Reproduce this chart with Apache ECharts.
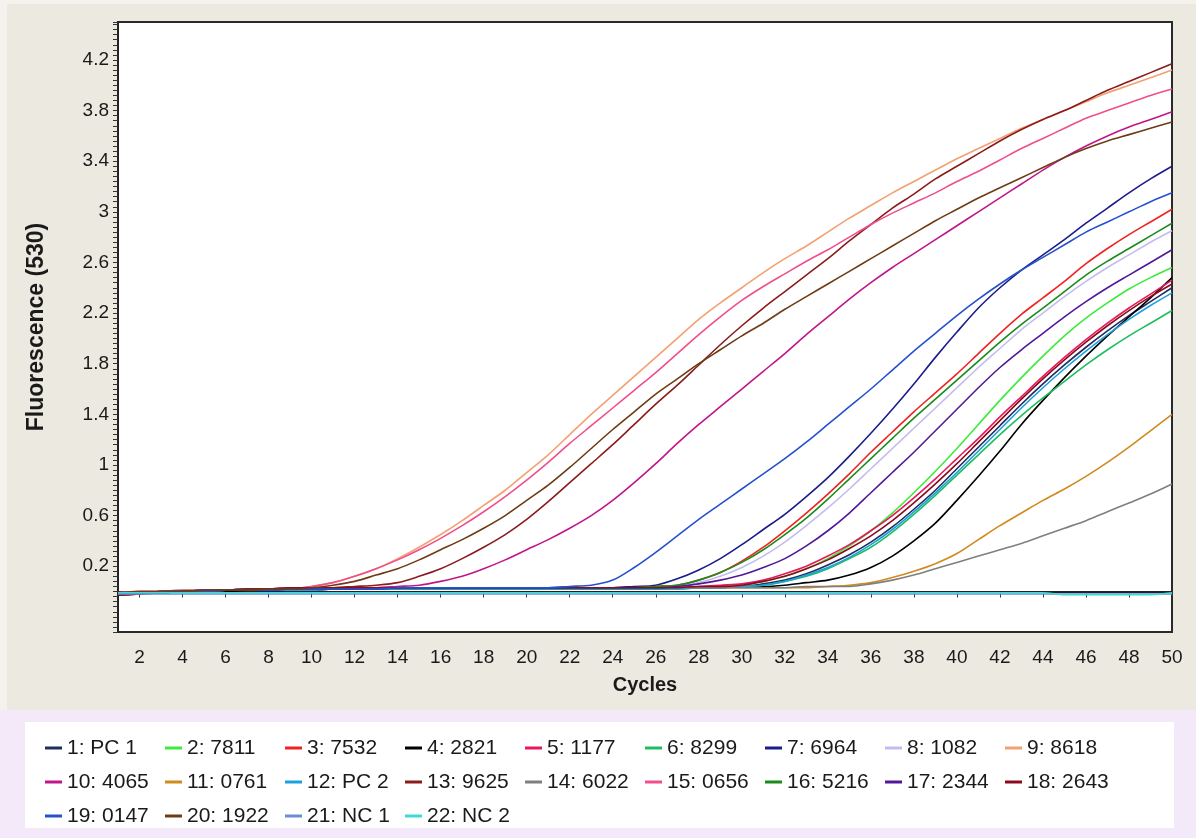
<!DOCTYPE html>
<html>
<head>
<meta charset="utf-8">
<title>Fluorescence (530) amplification curves</title>
<script src="https://cdn.jsdelivr.net/npm/echarts@6/dist/echarts.min.js"></script>
<style>
  html, body { margin: 0; padding: 0; background: #ece9e1; }
  #chart { width: 1196px; height: 838px; }
</style>
</head>
<body>
<div id="chart"></div>
<script>
/* -------------------------------------------------------------------------- */
/* Data */
var cycles = [1, 2, 3, 4, 5, 6, 7, 8, 9, 10, 11, 12, 13, 14, 15, 16, 17, 18, 19, 20,
  21, 22, 23, 24, 25, 26, 27, 28, 29, 30, 31, 32, 33, 34, 35, 36, 37, 38, 39, 40,
  41, 42, 43, 44, 45, 46, 47, 48, 49, 50];

var xTicks = [2, 4, 6, 8, 10, 12, 14, 16, 18, 20, 22, 24, 26, 28, 30, 32, 34, 36, 38, 40, 42, 44, 46, 48, 50];
var yTicks = [0.2, 0.6, 1, 1.4, 1.8, 2.2, 2.6, 3, 3.4, 3.8, 4.2];

var sampleNames = ['1: PC 1', '2: 7811', '3: 7532', '4: 2821', '5: 1177', '6: 8299', '7: 6964',
  '8: 1082', '9: 8618', '10: 4065', '11: 0761', '12: PC 2', '13: 9625', '14: 6022', '15: 0656',
  '16: 5216', '17: 2344', '18: 2643', '19: 0147', '20: 1922', '21: NC 1', '22: NC 2'];

var sampleColors = ['#1f2e5c', '#3ceb3c', '#f02222', '#000000', '#e8185a', '#1dbe60', '#1c1c8c',
  '#c4bcec', '#f4a072', '#c0168a', '#d08a1e', '#1e9fe0', '#8a1c1c', '#7f7f7f', '#f04e8c',
  '#1a8c1a', '#52189a', '#8c0a1e', '#2650ce', '#6e3c14', '#6c8cd6', '#3ed8d8'];

var s1 = [-0.02, -0.01, -0.01, 0, 0, 0.01, 0.01, 0.01, 0.02, 0.02, 0.02, 0.02, 0.02, 0.02, 0.02, 0.02, 0.02, 0.02, 0.02, 0.02,
  0.02, 0.02, 0.02, 0.02, 0.02, 0.02, 0.03, 0.03, 0.04, 0.04, 0.06, 0.09, 0.14, 0.21, 0.29, 0.39, 0.51, 0.65, 0.80, 0.97,
  1.14, 1.31, 1.48, 1.64, 1.79, 1.93, 2.06, 2.18, 2.29, 2.40];
var s2 = [-0.01, -0.01, 0, 0, 0, 0.01, 0.01, 0.01, 0.02, 0.02, 0.02, 0.02, 0.02, 0.02, 0.02, 0.02, 0.02, 0.02, 0.02, 0.02,
  0.02, 0.02, 0.02, 0.02, 0.03, 0.03, 0.03, 0.03, 0.04, 0.05, 0.08, 0.12, 0.18, 0.26, 0.36, 0.48, 0.62, 0.78, 0.95, 1.13,
  1.32, 1.51, 1.69, 1.86, 2.02, 2.16, 2.28, 2.39, 2.48, 2.56];
var s3 = [-0.01, -0.01, 0, 0, 0.01, 0.01, 0.01, 0.02, 0.02, 0.02, 0.02, 0.03, 0.03, 0.03, 0.03, 0.03, 0.03, 0.03, 0.03, 0.03,
  0.03, 0.03, 0.03, 0.03, 0.03, 0.04, 0.05, 0.09, 0.15, 0.24, 0.35, 0.48, 0.62, 0.77, 0.93, 1.10, 1.26, 1.42, 1.57, 1.72,
  1.88, 2.04, 2.19, 2.32, 2.45, 2.59, 2.71, 2.82, 2.92, 3.02];
var s4 = [-0.02, -0.01, -0.01, 0, 0, 0, 0.01, 0.01, 0.01, 0.01, 0.02, 0.02, 0.02, 0.02, 0.02, 0.02, 0.02, 0.02, 0.02, 0.02,
  0.02, 0.02, 0.02, 0.02, 0.02, 0.03, 0.03, 0.03, 0.03, 0.04, 0.04, 0.05, 0.07, 0.09, 0.13, 0.19, 0.28, 0.40, 0.54, 0.72,
  0.91, 1.11, 1.32, 1.51, 1.69, 1.86, 2.02, 2.17, 2.32, 2.48];
var s5 = [-0.01, -0.01, 0, 0, 0.01, 0.01, 0.01, 0.02, 0.02, 0.02, 0.03, 0.03, 0.03, 0.03, 0.03, 0.03, 0.03, 0.03, 0.03, 0.03,
  0.03, 0.03, 0.03, 0.03, 0.03, 0.03, 0.03, 0.04, 0.05, 0.06, 0.09, 0.14, 0.20, 0.28, 0.37, 0.48, 0.60, 0.74, 0.89, 1.05,
  1.21, 1.38, 1.54, 1.70, 1.85, 1.99, 2.12, 2.24, 2.35, 2.46];
var s6 = [-0.01, -0.01, 0, 0, 0, 0.01, 0.01, 0.01, 0.01, 0.02, 0.02, 0.02, 0.02, 0.02, 0.02, 0.02, 0.02, 0.02, 0.02, 0.02,
  0.02, 0.02, 0.02, 0.02, 0.02, 0.02, 0.02, 0.03, 0.03, 0.04, 0.05, 0.08, 0.12, 0.18, 0.26, 0.35, 0.47, 0.61, 0.76, 0.92,
  1.08, 1.24, 1.39, 1.53, 1.66, 1.79, 1.91, 2.02, 2.12, 2.22];
var s7 = [-0.02, -0.01, -0.01, 0, 0, 0.01, 0.01, 0.01, 0.02, 0.02, 0.02, 0.02, 0.02, 0.03, 0.03, 0.03, 0.03, 0.03, 0.03, 0.03,
  0.03, 0.03, 0.03, 0.03, 0.04, 0.05, 0.10, 0.17, 0.26, 0.37, 0.49, 0.61, 0.75, 0.90, 1.07, 1.25, 1.44, 1.64, 1.85, 2.05,
  2.24, 2.40, 2.54, 2.66, 2.78, 2.91, 3.03, 3.15, 3.26, 3.36];
var s8 = [-0.01, -0.01, 0, 0, 0.01, 0.01, 0.01, 0.02, 0.02, 0.02, 0.02, 0.02, 0.03, 0.03, 0.03, 0.03, 0.03, 0.03, 0.03, 0.03,
  0.03, 0.03, 0.03, 0.03, 0.03, 0.03, 0.04, 0.07, 0.12, 0.19, 0.28, 0.39, 0.52, 0.66, 0.81, 0.97, 1.13, 1.29, 1.45, 1.61,
  1.77, 1.92, 2.07, 2.20, 2.33, 2.45, 2.56, 2.66, 2.76, 2.85];
var s9 = [-0.01, 0, 0, 0, 0.01, 0.01, 0.01, 0.02, 0.02, 0.04, 0.07, 0.12, 0.18, 0.26, 0.35, 0.45, 0.56, 0.68, 0.80, 0.94,
  1.08, 1.24, 1.40, 1.55, 1.70, 1.85, 2.00, 2.15, 2.28, 2.40, 2.52, 2.63, 2.73, 2.84, 2.95, 3.05, 3.15, 3.24, 3.33, 3.42,
  3.50, 3.58, 3.66, 3.73, 3.80, 3.87, 3.94, 4.00, 4.06, 4.12];
var s10 = [-0.01, 0, 0, 0, 0.01, 0.01, 0.02, 0.02, 0.02, 0.02, 0.03, 0.03, 0.03, 0.04, 0.05, 0.08, 0.12, 0.18, 0.25, 0.33,
  0.41, 0.50, 0.60, 0.72, 0.86, 1.01, 1.17, 1.32, 1.46, 1.60, 1.74, 1.88, 2.03, 2.17, 2.31, 2.44, 2.56, 2.67, 2.78, 2.89,
  3.00, 3.11, 3.22, 3.33, 3.43, 3.52, 3.60, 3.67, 3.73, 3.79];
var s11 = [-0.01, -0.01, 0, 0, 0.01, 0.01, 0.01, 0.02, 0.02, 0.02, 0.02, 0.02, 0.03, 0.03, 0.03, 0.03, 0.03, 0.03, 0.03, 0.03,
  0.03, 0.03, 0.03, 0.03, 0.03, 0.03, 0.03, 0.03, 0.03, 0.03, 0.03, 0.03, 0.03, 0.04, 0.05, 0.07, 0.11, 0.16, 0.22, 0.30,
  0.41, 0.52, 0.62, 0.72, 0.81, 0.91, 1.02, 1.14, 1.27, 1.40];
var s12 = [-0.01, -0.01, 0, 0, 0, 0.01, 0.01, 0.01, 0.01, 0.01, 0.02, 0.02, 0.02, 0.02, 0.02, 0.02, 0.02, 0.02, 0.02, 0.02,
  0.02, 0.02, 0.02, 0.02, 0.02, 0.02, 0.02, 0.03, 0.03, 0.04, 0.05, 0.08, 0.13, 0.19, 0.27, 0.37, 0.49, 0.63, 0.78, 0.94,
  1.11, 1.28, 1.45, 1.61, 1.76, 1.90, 2.03, 2.15, 2.26, 2.36];
var s13 = [-0.03, -0.02, 0, 0.01, 0.01, 0.01, 0.02, 0.02, 0.03, 0.03, 0.03, 0.04, 0.05, 0.07, 0.12, 0.18, 0.26, 0.35, 0.45, 0.57,
  0.71, 0.86, 1.01, 1.16, 1.32, 1.48, 1.63, 1.79, 1.95, 2.10, 2.24, 2.37, 2.50, 2.63, 2.77, 2.90, 3.03, 3.14, 3.26, 3.36,
  3.46, 3.56, 3.65, 3.73, 3.80, 3.88, 3.96, 4.03, 4.10, 4.17];
var s14 = [-0.01, -0.01, 0, 0, 0.01, 0.01, 0.01, 0.02, 0.02, 0.02, 0.02, 0.02, 0.03, 0.03, 0.03, 0.03, 0.03, 0.03, 0.03, 0.03,
  0.03, 0.03, 0.03, 0.03, 0.03, 0.03, 0.03, 0.03, 0.03, 0.03, 0.03, 0.03, 0.04, 0.04, 0.04, 0.06, 0.09, 0.13, 0.18, 0.23,
  0.28, 0.33, 0.38, 0.44, 0.50, 0.56, 0.63, 0.70, 0.77, 0.85];
var s15 = [-0.01, 0, 0, 0, 0.01, 0.01, 0.01, 0.02, 0.02, 0.04, 0.07, 0.12, 0.18, 0.25, 0.33, 0.42, 0.52, 0.63, 0.75, 0.88,
  1.02, 1.17, 1.31, 1.45, 1.59, 1.73, 1.88, 2.03, 2.17, 2.30, 2.41, 2.51, 2.61, 2.70, 2.80, 2.90, 2.99, 3.07, 3.15, 3.24,
  3.32, 3.41, 3.50, 3.58, 3.66, 3.74, 3.80, 3.86, 3.92, 3.97];
var s16 = [-0.01, -0.01, 0, 0, 0.01, 0.01, 0.02, 0.02, 0.02, 0.02, 0.02, 0.03, 0.03, 0.03, 0.03, 0.03, 0.03, 0.03, 0.03, 0.03,
  0.03, 0.03, 0.03, 0.03, 0.03, 0.04, 0.05, 0.09, 0.15, 0.23, 0.33, 0.45, 0.58, 0.73, 0.89, 1.05, 1.21, 1.37, 1.52, 1.67,
  1.82, 1.97, 2.11, 2.24, 2.37, 2.50, 2.61, 2.71, 2.81, 2.91];
var s17 = [-0.01, -0.01, 0, 0, 0, 0.01, 0.01, 0.01, 0.02, 0.02, 0.02, 0.02, 0.02, 0.03, 0.03, 0.03, 0.03, 0.03, 0.03, 0.03,
  0.03, 0.03, 0.03, 0.03, 0.03, 0.03, 0.04, 0.06, 0.09, 0.13, 0.19, 0.26, 0.36, 0.48, 0.62, 0.78, 0.94, 1.10, 1.27, 1.44,
  1.61, 1.77, 1.91, 2.04, 2.17, 2.29, 2.40, 2.50, 2.60, 2.70];
var s18 = [-0.03, -0.02, -0.01, 0, 0.01, 0.01, 0.02, 0.02, 0.03, 0.03, 0.03, 0.03, 0.03, 0.03, 0.03, 0.03, 0.03, 0.03, 0.03, 0.03,
  0.03, 0.03, 0.03, 0.03, 0.03, 0.03, 0.03, 0.04, 0.04, 0.05, 0.08, 0.12, 0.18, 0.25, 0.34, 0.44, 0.56, 0.70, 0.85, 1.01,
  1.18, 1.35, 1.52, 1.68, 1.83, 1.97, 2.10, 2.22, 2.33, 2.43];
var s19 = [-0.02, -0.01, 0, 0, 0, 0.01, 0.01, 0.01, 0.02, 0.02, 0.02, 0.02, 0.02, 0.03, 0.03, 0.03, 0.03, 0.03, 0.03, 0.03,
  0.03, 0.04, 0.05, 0.09, 0.19, 0.31, 0.44, 0.57, 0.69, 0.81, 0.93, 1.05, 1.18, 1.32, 1.46, 1.60, 1.75, 1.90, 2.04, 2.18,
  2.31, 2.43, 2.54, 2.64, 2.74, 2.84, 2.92, 3.00, 3.08, 3.15];
var s20 = [-0.01, 0, 0, 0, 0.01, 0.01, 0.01, 0.02, 0.02, 0.03, 0.05, 0.08, 0.13, 0.18, 0.25, 0.33, 0.41, 0.50, 0.60, 0.72,
  0.84, 0.98, 1.13, 1.28, 1.42, 1.56, 1.68, 1.80, 1.91, 2.02, 2.12, 2.23, 2.33, 2.43, 2.53, 2.63, 2.73, 2.83, 2.93, 3.02,
  3.11, 3.19, 3.27, 3.35, 3.43, 3.50, 3.56, 3.61, 3.66, 3.71];
var s21 = [-0.02, -0.02, -0.02, -0.02, -0.02, -0.02, -0.02, -0.02, -0.02, -0.02, -0.02, -0.02, -0.02, -0.02, -0.02, -0.02, -0.02, -0.02, -0.02, -0.02,
  -0.02, -0.02, -0.02, -0.02, -0.02, -0.02, -0.02, -0.02, -0.02, -0.02, -0.02, -0.02, -0.02, -0.02, -0.02, -0.02, -0.02, -0.02, -0.02, -0.02,
  -0.02, -0.02, -0.02, -0.02, -0.02, -0.02, -0.02, -0.02, -0.02, -0.02];
var s22 = [-0.01, -0.01, -0.01, -0.01, -0.01, -0.01, -0.01, -0.01, -0.01, -0.01, -0.01, -0.01, -0.01, -0.01, -0.01, -0.01, -0.01, -0.01, -0.01, -0.01,
  -0.01, -0.01, -0.01, -0.01, -0.01, -0.01, -0.01, -0.01, -0.01, -0.01, -0.01, -0.01, -0.01, -0.01, -0.01, -0.01, -0.01, -0.01, -0.01, -0.01,
  -0.01, -0.01, -0.01, -0.01, -0.025, -0.025, -0.025, -0.025, -0.025, -0.01];

var sampleValues = [s1, s2, s3, s4, s5, s6, s7, s8, s9, s10, s11, s12, s13, s14, s15, s16, s17, s18, s19, s20, s21, s22];
/* -------------------------------------------------------------------------- */

var fontFamily = '"Liberation Sans", Arial, sans-serif';

var chart = echarts.init(document.getElementById('chart'));

var series = sampleNames.map(function (name, i) {
  return {
    name: name,
    type: 'line',
    showSymbol: false,
    symbol: 'none',
    smooth: 0.3,
    animation: false,
    itemStyle: { color: sampleColors[i] },
    lineStyle: { color: sampleColors[i], width: 1.6 },
    data: cycles.map(function (c, j) { return [c, sampleValues[i][j]]; })
  };
});

chart.setOption({
  backgroundColor: '#ece9e1',
  animation: false,
  graphic: [
    { type: 'rect', z: -2, shape: { x: 0, y: 0, width: 7, height: 710 }, style: { fill: '#f4f2ed' } },
    { type: 'rect', z: -2, shape: { x: 0, y: 0, width: 1196, height: 4 }, style: { fill: '#f4f2ed' } },
    { type: 'rect', z: -2, shape: { x: 0, y: 710, width: 1196, height: 128 }, style: { fill: '#f4e9f8' } },
    { type: 'rect', z: -1, shape: { x: 25, y: 722, width: 1149, height: 106 }, style: { fill: '#ffffff' } }
  ],
  grid: {
    left: 118,
    right: 24,
    top: 22,
    bottom: 206,
    show: true,
    backgroundColor: '#ffffff',
    borderColor: '#2a2a2a',
    borderWidth: 2,
    outerBoundsMode: 'none'
  },
  xAxis: {
    type: 'value',
    min: 1,
    max: 50,
    name: 'Cycles',
    nameLocation: 'middle',
    nameGap: 43,
    nameTextStyle: { fontFamily: fontFamily, fontSize: 20, fontWeight: 'bold', color: '#1a1a1a' },
    axisLine: { show: true, lineStyle: { color: '#222', width: 2 } },
    axisTick: { show: true, customValues: xTicks, length: 6, lineStyle: { color: '#333', width: 1 } },
    axisLabel: { customValues: xTicks, fontFamily: fontFamily, fontSize: 19, color: '#1a1a1a', margin: 16 },
    splitLine: { show: false }
  },
  yAxis: {
    type: 'value',
    // fine tick every 0.04 (min is a multiple of it); labels only every 0.4
    min: -0.32,
    max: 4.5,
    interval: 0.04,
    name: 'Fluorescence (530)',
    nameLocation: 'middle',
    nameRotate: 90,
    nameGap: 70,
    nameTextStyle: { fontFamily: fontFamily, fontSize: 23, fontWeight: 'bold', color: '#1a1a1a' },
    axisLine: { show: true, lineStyle: { color: '#222', width: 2 } },
    axisTick: { show: true, length: 5, lineStyle: { color: '#333', width: 1 } },
    axisLabel: { customValues: yTicks, fontFamily: fontFamily, fontSize: 19, color: '#1a1a1a', margin: 9 },
    splitLine: { show: false }
  },
  legend: {
    left: 40,
    top: 726,
    width: 1090,
    itemGap: 0,
    itemWidth: 17,
    itemHeight: 3,
    icon: 'rect',
    textStyle: { fontFamily: fontFamily, fontSize: 21, color: '#1a1a1a', width: 98, lineHeight: 34 },
    data: sampleNames
  },
  series: series
});
</script>
</body>
</html>
